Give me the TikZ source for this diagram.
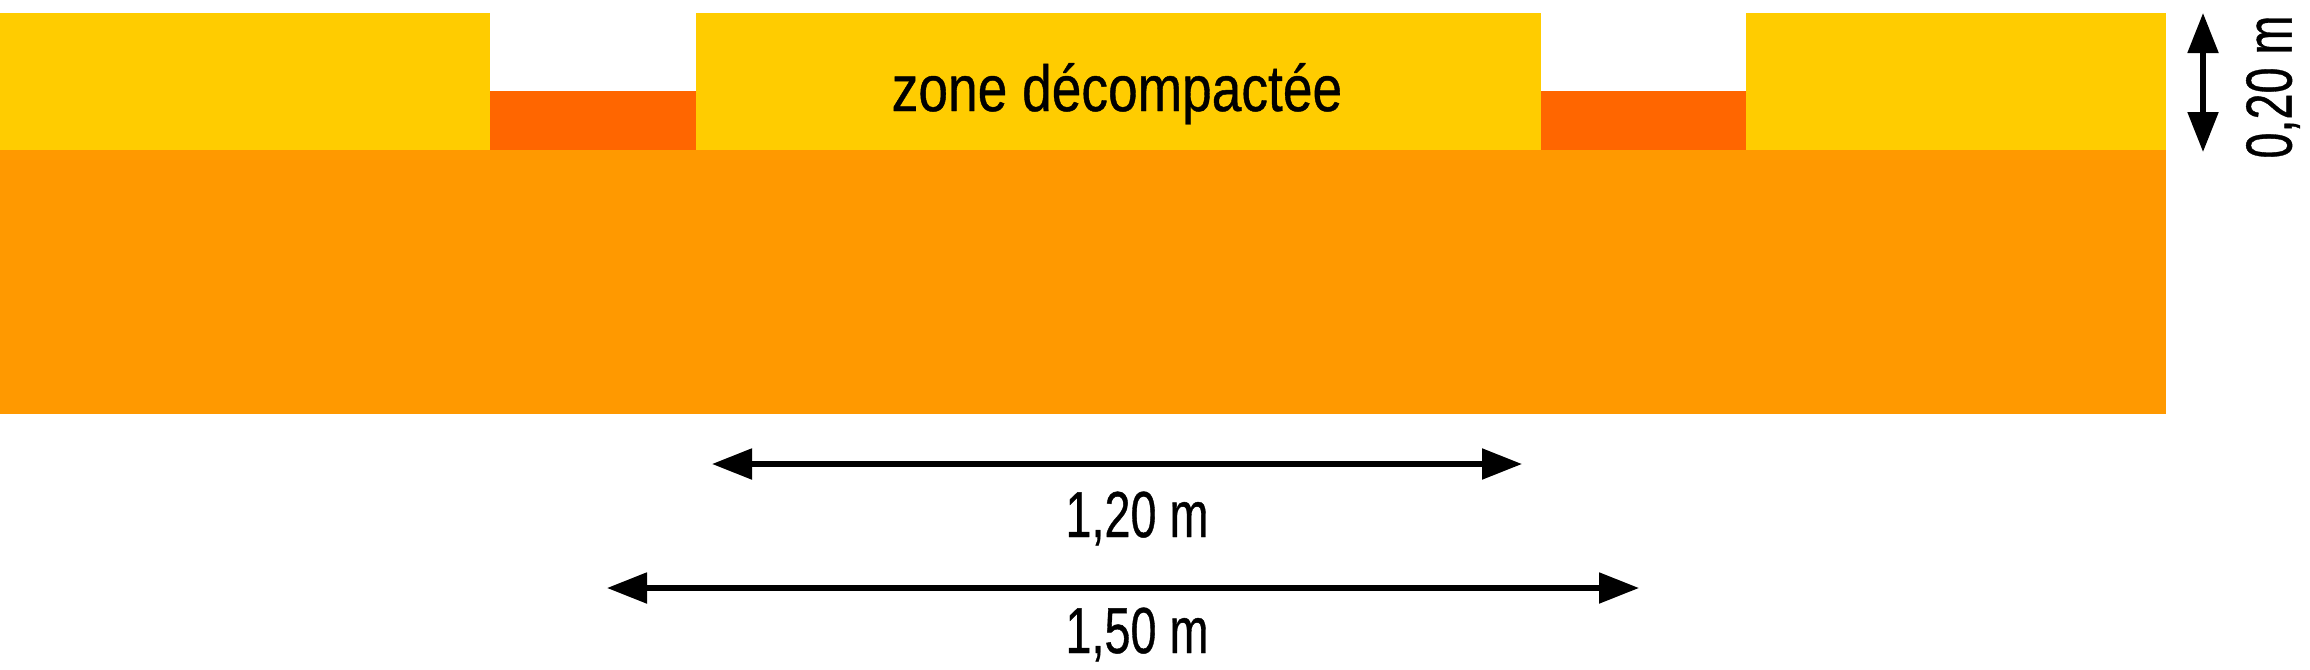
\documentclass[tikz,border=0pt]{standalone}
\usepackage{fontspec}
\setmainfont[FakeBold=0.7]{Liberation Sans}
\usepackage{graphicx}
\usepackage{tikz}
\usetikzlibrary{arrows.meta}

\definecolor{jaune}{HTML}{FFCC00}
\definecolor{rouille}{HTML}{FF6600}
\definecolor{orangesol}{HTML}{FF9900}

% texte etroit
\newcommand{\etroit}[2][0.72]{\scalebox{#1}[1]{#2}}

\begin{document}
\begin{tikzpicture}[
        cote/.style={line width=1.5pt, {Triangle[length=4mm,width=3mm]}-{Triangle[length=4mm,width=3mm]}},
        etiquette/.style={font=\fontsize{18.5}{20}\selectfont, inner sep=0pt}
    ]
            \useasboundingbox (0,0) rectangle (23.1,6.69);

            % Sol en place
            \path[fill=orangesol] (0,2.55) rectangle (21.66,5.19);

            % Fonds des tranchees
            \path[fill=rouille] (4.90,5.19) rectangle (6.96,5.78);
            \path[fill=rouille] (15.41,5.19) rectangle (17.46,5.78);

            % Bandes decompactees
            \path[fill=jaune] (0,5.19) rectangle (4.90,6.56);
            \path[fill=jaune] (6.96,5.19) rectangle (15.41,6.56);
            \path[fill=jaune] (17.46,5.19) rectangle (21.66,6.56);

            \node[etiquette, anchor=base] (zone) at (11.17,5.58) {\etroit[0.82]{zone décompactée}};

            % Cote verticale
            \coordinate (h0) at (22.03,6.56);
            \coordinate (h1) at (22.03,5.17);
            \draw[cote] (h0) -- (h1);
            \node[etiquette, rotate=90] (epaisseur) at (22.73,5.82) {\etroit{0,20 m}};

            % Cotes horizontales
            \coordinate (a0) at (7.12,2.05);
            \coordinate (a1) at (15.22,2.05);
            \draw[cote] (a0) -- (a1);
            \node[etiquette, anchor=base] (largeur) at (11.37,1.32) {\etroit{1,20 m}};

            \coordinate (b0) at (6.07,0.81);
            \coordinate (b1) at (16.39,0.81);
            \draw[cote] (b0) -- (b1);
            \node[etiquette, anchor=base] (entraxe) at (11.37,0.16) {\etroit{1,50 m}};

        \end{tikzpicture}
\end{document}
